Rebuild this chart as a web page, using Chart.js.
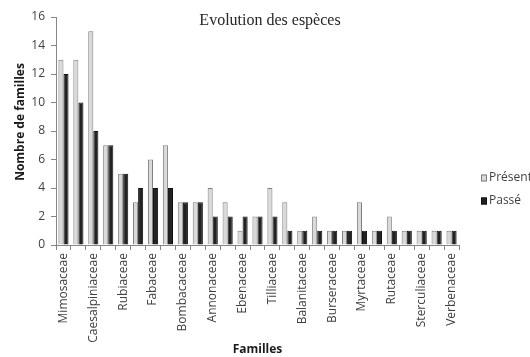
<!DOCTYPE html>
<html>
<head>
<meta charset="utf-8">
<script src="https://cdn.jsdelivr.net/npm/chart.js@4/dist/chart.umd.min.js"></script>
<style>
  html, body { margin: 0; padding: 0; background: #fff; }
  #chart { display: block; }
</style>
</head>
<body>
<canvas id="chart" width="530" height="357"></canvas>
<script>
// familles (only every other name is printed on the axis)
const familles = [
  "Mimosaceae", "", "Caesalpiniaceae", "", "Rubiaceae", "", "Fabaceae", "",
  "Bombacaceae", "", "Annonaceae", "", "Ebenaceae", "", "Tilliaceae", "",
  "Balanitaceae", "", "Burseraceae", "", "Myrtaceae", "", "Rutaceae", "",
  "Sterculiaceae", "", "Verbenaceae"
];
const present = [13, 13, 15, 7, 5, 3, 6, 7, 3, 3, 4, 3, 1, 2, 4, 3, 1, 2, 1, 1, 3, 1, 2, 1, 1, 1, 1];
const passe   = [12, 10, 8, 7, 5, 4, 4, 4, 3, 3, 2, 2, 2, 2, 2, 1, 1, 1, 1, 1, 1, 1, 1, 1, 1, 1, 1];
const seriesNames = ["Présent", "Passé"];
const yMax = 16;
const yStep = 2;

const chartTitle = "Evolution des espèces";
const yTitle = "Nombre de familles";
const xTitle = "Familles";

const lightFill = "#d9d9d9", lightEdge = "#7f7f7f";
const darkFill = "#222222", darkEdge = "#111111";
const axisColor = "#868686";

// title, y axis title and legend drawn by hand (Excel-like placement)
const extras = {
  id: "extras",
  afterDraw(chart) {
    const ctx = chart.ctx;
    ctx.save();
    ctx.fillStyle = "#262626";
    ctx.font = "16px 'Liberation Serif'";
    ctx.textAlign = "center";
    ctx.textBaseline = "middle";
    ctx.fillText(chartTitle, 270, 21);

    ctx.font = "bold 12px 'Open Sans'";
    ctx.fillStyle = "#1a1a1a";
    ctx.translate(21, 122);
    ctx.rotate(-Math.PI / 2);
    ctx.fillText(yTitle, 0, 0);
    ctx.restore();

    // legend
    ctx.save();
    ctx.font = "12px 'Open Sans'";
    ctx.textBaseline = "middle";
    ctx.textAlign = "left";
    const rows = [[lightFill, lightEdge, 178], [darkFill, darkEdge, 201]];
    rows.forEach(([fill, edge, y], i) => {
      ctx.fillStyle = fill;
      ctx.fillRect(481, y - 3.5, 6, 7);
      ctx.strokeStyle = edge;
      ctx.lineWidth = 1;
      ctx.strokeRect(481.5, y - 3, 5, 6);
      ctx.fillStyle = "#404040";
      ctx.fillText(seriesNames[i], 489, y);
    });
    ctx.restore();
  }
};

new Chart(document.getElementById("chart").getContext("2d"), {
  type: "bar",
  data: {
    labels: familles,
    datasets: [
      {
        label: seriesNames[0],
        data: present,
        backgroundColor: lightFill,
        borderColor: lightEdge,
        borderWidth: 1,
        categoryPercentage: 0.68,
        barPercentage: 1.0,
      },
      {
        label: seriesNames[1],
        data: passe,
        backgroundColor: darkFill,
        borderColor: darkEdge,
        borderWidth: 1,
        categoryPercentage: 0.68,
        barPercentage: 1.0,
      },
    ],
  },
  options: {
    responsive: false,
    animation: false,
    layout: { padding: { left: 0, right: 71, top: 17, bottom: 0 } },
    plugins: {
      legend: { display: false },
      title: { display: false },
      tooltip: { enabled: false },
    },
    scales: {
      x: {
        afterFit: (scale) => { scale.height = 112; },
        grid: {
          offset: true,
          drawOnChartArea: false,
          drawTicks: true,
          tickLength: 5,
          color: axisColor,
        },
        border: { color: axisColor },
        ticks: {
          autoSkip: false,
          maxRotation: 90,
          minRotation: 90,
          padding: 3,
          color: "#404040",
          font: { family: "'Open Sans'", size: 12 },
        },
        title: {
          display: true,
          text: xTitle,
          color: "#1a1a1a",
          padding: { top: 0, bottom: 0 },
          font: { family: "'Open Sans'", size: 12, weight: "bold" },
        },
      },
      y: {
        min: 0,
        max: yMax,
        afterFit: (scale) => { scale.width = 56; },
        grid: {
          drawOnChartArea: false,
          drawTicks: true,
          tickLength: 5,
          color: axisColor,
        },
        border: { color: axisColor },
        ticks: {
          stepSize: yStep,
          padding: 6,
          color: "#404040",
          font: { family: "'Open Sans'", size: 12 },
        },
      },
    },
  },
  plugins: [extras],
});
</script>
</body>
</html>
